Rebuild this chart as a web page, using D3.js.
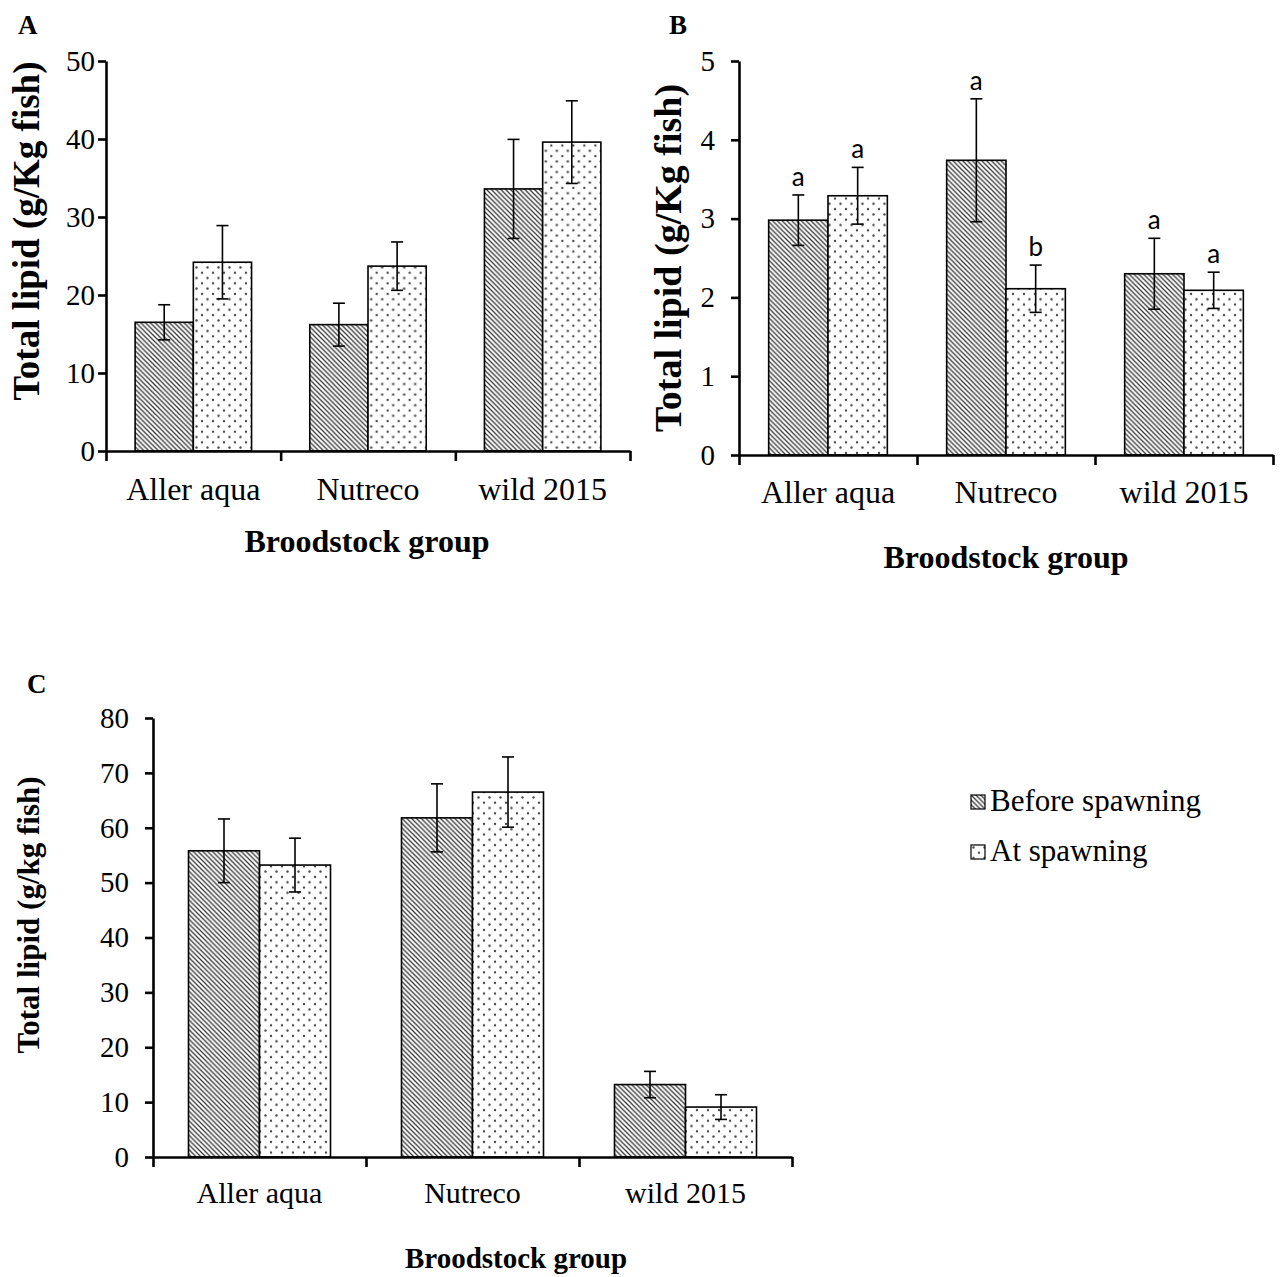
<!DOCTYPE html>
<html>
<head>
<meta charset="utf-8">
<script src="https://cdn.jsdelivr.net/npm/d3@7"></script>
<style>
  body { margin: 0; background: #fff; }
  text { font-family: "Liberation Serif", "Times New Roman", serif; fill: #000; }
</style>
</head>
<body>
<div id="canvas"></div>
<script>
// groups and series
const groups = ["Aller aqua", "Nutreco", "wild 2015"];
const seriesNames = ["Before spawning", "At spawning"];

// panel A  (g/Kg fish)
const aBefore = [16.5, 16.2, 33.6];
const aAt = [24.2, 23.7, 39.6];
const aBeforeErr = [2.25, 2.75, 6.35];
const aAtErr = [4.7, 3.1, 5.3];
const aTicks = [0, 10, 20, 30, 40, 50];

// panel B
const bBefore = [2.98, 3.74, 2.30];
const bAt = [3.29, 2.11, 2.09];
const bBeforeErr = [0.32, 0.78, 0.45];
const bAtErr = [0.36, 0.30, 0.23];
const bBeforeLetters = ["a", "a", "a"];
const bAtLetters = ["a", "b", "a"];
const bTicks = [0, 1, 2, 3, 4, 5];

// panel C  (g/kg fish)
const cBefore = [55.8, 61.8, 13.2];
const cAt = [53.2, 66.5, 9.1];
const cBeforeErr = [5.8, 6.2, 2.4];
const cAtErr = [4.9, 6.4, 2.25];
const cTicks = [0, 10, 20, 30, 40, 50, 60, 70, 80];

const width = 1282;
const height = 1277;

const svg = d3.select("#canvas")
    .append("svg")
    .attr("width", width)
    .attr("height", height);

// fill patterns
const defs = svg.append("defs");

const hatch = defs.append("pattern")
    .attr("id", "hatch")
    .attr("patternUnits", "userSpaceOnUse")
    .attr("width", 4.8)
    .attr("height", 4.8);
hatch.append("rect").attr("width", 4.8).attr("height", 4.8).attr("fill", "#fff");
hatch.append("path")
    .attr("d", "M-1,-1 L5.8,5.8 M-1,3.8 L1,5.8 M3.8,-1 L5.8,1")
    .attr("stroke", "#333")
    .attr("stroke-width", 1.25);

const dots = defs.append("pattern")
    .attr("id", "dots")
    .attr("patternUnits", "userSpaceOnUse")
    .attr("width", 11)
    .attr("height", 10.6);
dots.append("rect").attr("width", 11).attr("height", 10.6).attr("fill", "#fff");
dots.append("circle").attr("cx", 2.5).attr("cy", 2.5).attr("r", 1.2).attr("fill", "#444");
dots.append("circle").attr("cx", 8).attr("cy", 7.8).attr("r", 1.2).attr("fill", "#444");

const fills = ["url(#hatch)", "url(#dots)"];

function drawPanel(p) {
    const g = svg.append("g");

    const x0 = d3.scaleBand().domain(groups).range([p.left, p.right]).padding(0);
    const x1 = d3.scaleBand().domain(seriesNames).range([0, x0.bandwidth()])
        .paddingInner(0).paddingOuter(0.5);
    const y = d3.scaleLinear().domain([0, p.max]).range([p.bottom, p.top]);

    const rows = groups.map((grp, i) => ({
        group: grp,
        vals: [
            { s: seriesNames[0], v: p.before[i], e: p.beforeErr[i], l: p.beforeLetters ? p.beforeLetters[i] : null },
            { s: seriesNames[1], v: p.at[i], e: p.atErr[i], l: p.atLetters ? p.atLetters[i] : null }
        ]
    }));

    const grp = g.selectAll(".grp")
        .data(rows)
        .enter().append("g")
        .attr("transform", d => `translate(${x0(d.group)},0)`);

    grp.selectAll("rect")
        .data(d => d.vals)
        .enter().append("rect")
        .attr("x", d => x1(d.s))
        .attr("y", d => y(d.v))
        .attr("width", x1.bandwidth())
        .attr("height", d => y(0) - y(d.v))
        .attr("fill", (d, i) => fills[i])
        .attr("stroke", "#000")
        .attr("stroke-width", 1.6);

    // error bars
    const eb = grp.selectAll(".err")
        .data(d => d.vals)
        .enter().append("g")
        .attr("stroke", "#000")
        .attr("stroke-width", 1.6);
    const cx = d => x1(d.s) + x1.bandwidth() / 2;
    eb.append("line")
        .attr("x1", cx).attr("x2", cx)
        .attr("y1", d => y(d.v + d.e)).attr("y2", d => y(d.v - d.e));
    eb.append("line")
        .attr("x1", d => cx(d) - 6).attr("x2", d => cx(d) + 6)
        .attr("y1", d => y(d.v + d.e)).attr("y2", d => y(d.v + d.e));
    eb.append("line")
        .attr("x1", d => cx(d) - 6).attr("x2", d => cx(d) + 6)
        .attr("y1", d => y(d.v - d.e)).attr("y2", d => y(d.v - d.e));

    // significance letters
    grp.selectAll(".letter")
        .data(d => d.vals.filter(v => v.l))
        .enter().append("text")
        .attr("x", cx)
        .attr("y", d => y(d.v + d.e) - 9)
        .attr("text-anchor", "middle")
        .style("font-family", "Lato, 'Open Sans', sans-serif")
        .style("font-size", "26px")
        .text(d => d.l);

    // y axis, labels drawn separately so they keep the serif face
    g.append("g")
        .attr("transform", `translate(${p.left},0)`)
        .call(d3.axisLeft(y).tickValues(p.ticks).tickSize(8).tickSizeOuter(0).tickFormat(""));

    g.selectAll(".ylab")
        .data(p.ticks)
        .enter().append("text")
        .attr("x", p.left - p.tickPad)
        .attr("y", d => y(d))
        .attr("dy", "0.34em")
        .attr("text-anchor", "end")
        .style("font-size", p.tickFont + "px")
        .text(d => d);

    // x axis (ticks on group borders)
    const xb = d3.scaleLinear().domain([0, groups.length]).range([p.left, p.right]);
    g.append("g")
        .attr("transform", `translate(0,${p.bottom})`)
        .call(d3.axisBottom(xb).tickValues(d3.range(groups.length + 1)).tickSize(10)
            .tickSizeOuter(0).tickFormat(""));

    g.selectAll(".domain, .tick line")
        .attr("stroke", "#000")
        .attr("stroke-width", 2.6);

    // group labels
    g.selectAll(".glabel")
        .data(groups)
        .enter().append("text")
        .attr("x", d => x0(d) + x0.bandwidth() / 2)
        .attr("y", p.catY)
        .attr("text-anchor", "middle")
        .style("font-size", p.catFont + "px")
        .text(d => d);

    g.append("text")
        .attr("x", p.xTitleX)
        .attr("y", p.xTitleY)
        .attr("text-anchor", "middle")
        .style("font-size", p.titleFont + "px")
        .style("font-weight", "bold")
        .text("Broodstock group");

    g.append("text")
        .attr("transform", `translate(${p.yTitleX},${p.yTitleY}) rotate(-90)`)
        .attr("text-anchor", "middle")
        .attr("dy", "0.35em")
        .style("font-size", p.yTitleFont + "px")
        .style("font-weight", "bold")
        .text(p.yTitle);

    g.append("text")
        .attr("x", p.letterX)
        .attr("y", p.letterY)
        .style("font-size", "27px")
        .style("font-weight", "bold")
        .text(p.letter);
}

drawPanel({
    letter: "A", letterX: 18, letterY: 34,
    left: 106, right: 630, top: 61, bottom: 451, max: 50, ticks: aTicks,
    before: aBefore, at: aAt, beforeErr: aBeforeErr, atErr: aAtErr,
    tickFont: 29, tickPad: 11, catFont: 32, catY: 500, titleFont: 32,
    xTitleX: 367, xTitleY: 552,
    yTitle: "Total lipid (g/Kg fish)", yTitleFont: 37, yTitleX: 26, yTitleY: 231
});

drawPanel({
    letter: "B", letterX: 669, letterY: 34,
    left: 739, right: 1273, top: 61, bottom: 455, max: 5, ticks: bTicks,
    before: bBefore, at: bAt, beforeErr: bBeforeErr, atErr: bAtErr,
    beforeLetters: bBeforeLetters, atLetters: bAtLetters,
    tickFont: 29, tickPad: 24, catFont: 32, catY: 503, titleFont: 32,
    xTitleX: 1006, xTitleY: 568,
    yTitle: "Total lipid (g/Kg fish)", yTitleFont: 38, yTitleX: 668, yTitleY: 258
});

drawPanel({
    letter: "C", letterX: 27, letterY: 693,
    left: 153, right: 792, top: 718, bottom: 1157, max: 80, ticks: cTicks,
    before: cBefore, at: cAt, beforeErr: cBeforeErr, atErr: cAtErr,
    tickFont: 29, tickPad: 24, catFont: 30, catY: 1203, titleFont: 29,
    xTitleX: 516, xTitleY: 1268,
    yTitle: "Total lipid (g/kg fish)", yTitleFont: 31, yTitleX: 28, yTitleY: 915
});

// legend
const legend = svg.append("g")
    .selectAll("g")
    .data(seriesNames)
    .enter().append("g")
    .attr("transform", (d, i) => `translate(971,${795 + i * 50})`);
legend.append("rect")
    .attr("width", 14)
    .attr("height", 14)
    .attr("fill", (d, i) => fills[i])
    .attr("stroke", "#000")
    .attr("stroke-width", 1.2);
legend.append("text")
    .attr("x", 19)
    .attr("y", 16)
    .style("font-size", "31px")
    .text(d => d);
</script>
</body>
</html>
